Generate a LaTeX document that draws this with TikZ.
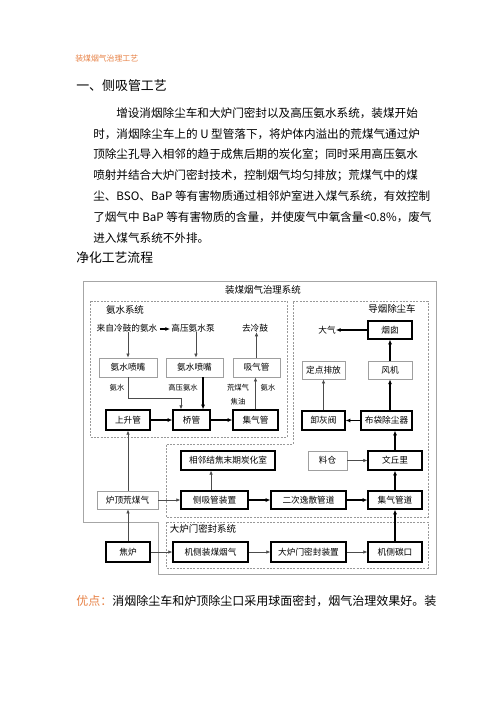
\documentclass[tikz,border=0pt]{standalone}
\usepackage{fontspec}
\setmainfont{Noto Sans CJK SC}
\usetikzlibrary{arrows.meta,calc}
\definecolor{hdr}{RGB}{232,130,70}
\begin{document}
\begin{tikzpicture}[x=0.75pt,y=-0.75pt,
  sz/.style 2 args={minimum width=#1*0.75pt,minimum height=#2*0.75pt},
  bx/.style={draw=black,line width=0.9pt,inner sep=0pt,font=\fontsize{6.5pt}{7pt}\selectfont},
  gbx/.style={draw=gray!75,line width=0.55pt,inner sep=0pt,font=\fontsize{6.5pt}{7pt}\selectfont},
  txt/.style={inner sep=0pt,font=\fontsize{6.5pt}{7pt}\selectfont},
  lbl/.style={inner sep=0pt,font=\fontsize{7.1pt}{8pt}\selectfont},
  sm/.style={inner sep=0pt,font=\fontsize{5.5pt}{6pt}\selectfont},
  para/.style={inner sep=0pt,anchor=west,font=\fontsize{8.7pt}{10pt}\selectfont},
  karr/.style={draw=black,line width=0.9pt,-{Latex[length=3.5pt,width=3pt]}},
  garr/.style={draw=gray!60!black,line width=0.5pt,-{Latex[length=3pt,width=2.6pt]}},
  dbox/.style={draw=gray!80,line width=0.5pt,dash pattern=on 1.5pt off 1pt},
  frame/.style={draw=gray!70,line width=0.6pt},
]
\useasboundingbox (0,0) rectangle (496,702);
\fill[white] (0,0) rectangle (496,702);

% ---- text above ----
\node[inner sep=0pt,anchor=west,text=hdr,font=\fontsize{5.9pt}{7pt}\selectfont] (hd) at (75,59) {装煤烟气治理工艺};
\node[inner sep=0pt,anchor=west,font=\fontsize{9.7pt}{11pt}\selectfont] (t1) at (76,86) {一、侧吸管工艺};
\node[para] (p1) at (116,113) {增设消烟除尘车和大炉门密封以及高压氨水系统，装煤开始};
\node[para] (p2) at (93,134) {时，消烟除尘车上的 U 型管落下，将炉体内溢出的荒煤气通过炉};
\node[para] (p3) at (93,155) {顶除尘孔导入相邻的趋于成焦后期的炭化室；同时采用高压氨水};
\node[para] (p4) at (93,176) {喷射并结合大炉门密封技术，控制烟气均匀排放；荒煤气中的煤};
\node[para] (p5) at (93,196) {尘、BSO、BaP 等有害物质通过相邻炉室进入煤气系统，有效控制};
\node[para] (p6) at (93,217) {了烟气中 BaP 等有害物质的含量，并使废气中氧含量<0.8\%，废气};
\node[para] (p7) at (93,238) {进入煤气系统不外排。};
\node[inner sep=0pt,anchor=west,font=\fontsize{9.6pt}{11pt}\selectfont] (t2) at (76,258) {净化工艺流程};

% ---- frames ----
\draw[frame] (83,281) -- (436,281) -- (436,574) -- (158,574) -- (158,522) -- (83,522) -- cycle;
\draw[dbox] (90,301) rectangle (287,437);
\draw[dbox] (293,301) -- (428,301) -- (428,517) -- (166,517) -- (166,444) -- (293,444) -- cycle;
\draw[dbox] (166,522) rectangle (428,568);

\node[lbl] (title) at (263,290) {装煤烟气治理系统};
\node[lbl] (ls1) at (125,310) {氨水系统};
\node[lbl] (ls2) at (392,309) {导烟除尘车};
\node[lbl] (ls3) at (203,529) {大炉门密封系统};

% ---- ammonia system ----
\node[txt] (lz) at (127,328) {来自冷鼓的氨水};
\node[txt] (gyb) at (193,328) {高压氨水泵};
\node[txt] (qlg) at (255,328) {去冷鼓};
\node[gbx,sz={58}{19}] (n1) at (128,367.5) {氨水喷嘴};
\node[gbx,sz={57}{19}] (n2) at (194.5,367.5) {氨水喷嘴};
\node[gbx,sz={47}{19}] (xqg) at (256.5,367.5) {吸气管};
\node[bx,sz={44}{20}] (ssg) at (128,420) {上升管};
\node[bx,sz={37}{20}] (qg) at (191.5,420) {桥管};
\node[bx,sz={45}{20}] (jqg) at (255.5,420) {集气管};
\node[sm] (la1) at (117,388) {氨水};
\node[sm] (la2) at (183,388) {高压氨水};
\node[sm] (la3) at (238,388) {荒煤气};
\node[sm] (la4) at (238,402) {焦油};
\node[sm] (la5) at (268,388) {氨水};

% ---- dust removal car ----
\node[bx,sz={44}{18}] (yc) at (390,330) {烟囱};
\node[txt] (dq) at (327,330) {大气};
\node[gbx,sz={43}{18}] (ddpf) at (323.5,370) {定点排放};
\node[gbx,sz={44}{18}] (fj) at (390,370) {风机};
\node[bx,sz={43}{19}] (xhf) at (323.5,420.5) {卸灰阀};
\node[bx,sz={51}{19}] (bd) at (386.5,420.5) {布袋除尘器};

% ---- middle ----
\node[bx,sz={94}{19}] (xl) at (228,460.5) {相邻结焦末期炭化室};
\node[gbx,sz={39}{19}] (lc) at (327.5,460.5) {料仓};
\node[bx,sz={54}{19}] (wql) at (395,460.5) {文丘里};
\node[gbx,sz={61}{18}] (ldh) at (127.5,500) {炉顶荒煤气};
\node[bx,sz={67}{18}] (cxg) at (214.5,500) {侧吸管装置};
\node[bx,sz={75}{18}] (ecy) at (308.5,500) {二次逸散管道};
\node[bx,sz={54}{18}] (jqgd) at (395,500) {集气管道};

% ---- bottom ----
\node[bx,sz={44}{20}] (jl) at (128,552) {焦炉};
\node[bx,sz={75}{20}] (jc) at (210.5,552) {机侧装煤烟气};
\node[bx,sz={75}{20}] (dlm) at (308.5,552) {大炉门密封装置};
\node[bx,sz={54}{20}] (jck) at (395,552) {机侧碳口};

% ---- connectors ----
\draw[garr] (lz.south -| n1.north) ++(0,-2) coordinate (c0) (lz.south -| n1.north) -- (n1.north);
\draw[karr] (lz.east) ++(2,1) coordinate (c1) -- ($(gyb.west)+(-1,1)$) coordinate (c2);
\draw[garr] ([xshift=2.2pt]gyb.south) -- ([xshift=2.2pt]gyb.south |- n2.north);
\draw[garr] (xqg.north) -- (xqg.north |- qlg.south);
\coordinate (b1) at (181,398);
\draw[garr] (n1.south) |- (b1) -- (b1 |- qg.north);
\draw[karr] ([xshift=6.4pt]n2.south) -- ([xshift=6.4pt]n2.south |- qg.north);
\draw[garr] (jqg.north) -- (jqg.north |- xqg.south);
\draw[karr] (ssg) -- (qg);
\draw[karr] (qg) -- (jqg);

\draw[karr] (yc.west) -- (dq.east);
\draw[karr] (fj.north) -- (yc.south);
\draw[karr] (fj.south |- bd.north) -- (fj.south);
\draw[garr] (xhf.north) -- (ddpf.south);
\draw[karr] (bd.west) -- (xhf.east);

\draw[garr] ([xshift=-2.6pt]cxg.north) -- ([xshift=-2.6pt]cxg.north |- xl.south);
\draw[garr] (ldh.east) -- (cxg.west);
\draw[karr] (cxg.east) -- (ecy.west);
\draw[karr] (ecy.east) -- (jqgd.west);
\draw[garr] (lc.east) -- (wql.west);
\draw[karr] (jqgd.north) -- (wql.south);
\draw[karr] (wql.north) -- (wql.north |- bd.south);
\draw[karr] (jck.north) -- (jqgd.south);

\draw[garr] (jl.north) -- (jl.north |- ldh.south);
\draw[garr] (ldh.north -| ssg.south) -- (ssg.south);
\draw[garr] (jl.east) -- (jc.west);
\draw[garr] (jc.east) -- (dlm.west);
\draw[garr] (dlm.east) -- (jck.west);

% ---- text below ----
\node[inner sep=0pt,anchor=west,font=\fontsize{9pt}{10pt}\selectfont] (adv) at (76,601) {\textcolor{hdr}{优点：}消烟除尘车和炉顶除尘口采用球面密封，烟气治理效果好。装};
\end{tikzpicture}
\end{document}
